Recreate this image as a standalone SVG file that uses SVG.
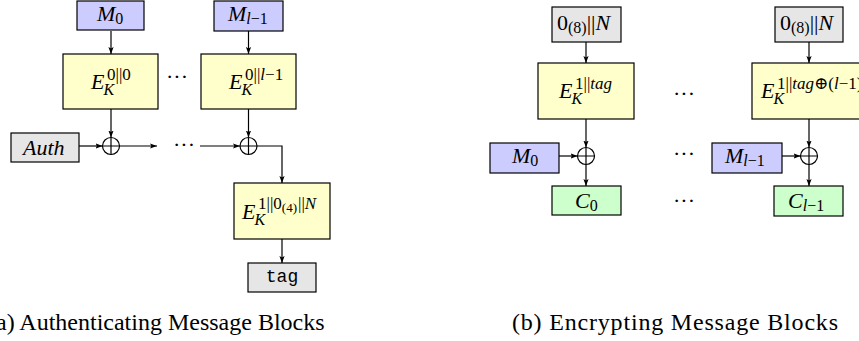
<svg xmlns="http://www.w3.org/2000/svg" width="859" height="341" viewBox="0 0 859 341">
<style>
.box{stroke:#000;stroke-width:1.2}
.blue{fill:#ccccff}.yel{fill:#ffffcc}.gry{fill:#e6e6e6}.grn{fill:#ccffcc}
.t{font-family:"Liberation Serif","DejaVu Serif","Times New Roman",serif;font-size:22px;fill:#000}
.i{font-style:italic}
.sm{font-size:16px}
.sp{font-size:17px}
.xs{font-size:13px}
.tt{font-family:"Liberation Mono","DejaVu Sans Mono",monospace;font-size:18px;fill:#000}
.ln{stroke:#000;stroke-width:1.2;fill:none}
.ox{stroke:#000;stroke-width:1.2;fill:#fff}
.dots{font-family:"Liberation Serif","DejaVu Serif",serif;font-size:22px;fill:#000}
.cap{font-family:"Liberation Serif","DejaVu Serif","Times New Roman",serif;font-size:24px;fill:#000}
</style>
<defs>
<marker id="ah" viewBox="0 0 7 6" refX="7" refY="3" markerWidth="7" markerHeight="6" orient="auto" markerUnits="userSpaceOnUse"><path d="M0,0.4 L7,3 L0,5.6 L1.4,3 Z" fill="#000"/></marker>
</defs>
<rect width="859" height="341" fill="#fff"/>

<g id="connectors">
<line class="ln" x1="111" y1="31" x2="111" y2="54" marker-end="url(#ah)"/>
<line class="ln" x1="248.5" y1="31" x2="248.5" y2="54" marker-end="url(#ah)"/>
<line class="ln" x1="111" y1="109" x2="111" y2="137.5" marker-end="url(#ah)"/>
<line class="ln" x1="248.5" y1="109" x2="248.5" y2="137.5" marker-end="url(#ah)"/>
<line class="ln" x1="79" y1="146" x2="102.5" y2="146" marker-end="url(#ah)"/>
<line class="ln" x1="119.5" y1="146" x2="157" y2="146" marker-end="url(#ah)"/>
<line class="ln" x1="200" y1="146" x2="240" y2="146" marker-end="url(#ah)"/>
<polyline class="ln" points="257,146 282,146 282,183" marker-end="url(#ah)"/>
<line class="ln" x1="282" y1="239" x2="282" y2="263" marker-end="url(#ah)"/>
<line class="ln" x1="586" y1="42" x2="586" y2="63" marker-end="url(#ah)"/>
<line class="ln" x1="586" y1="119" x2="586" y2="147.5" marker-end="url(#ah)"/>
<line class="ln" x1="559" y1="156" x2="577.5" y2="156" marker-end="url(#ah)"/>
<line class="ln" x1="586" y1="164.5" x2="586" y2="186" marker-end="url(#ah)"/>
<line class="ln" x1="809" y1="42" x2="809" y2="63" marker-end="url(#ah)"/>
<line class="ln" x1="809" y1="119" x2="809" y2="147.5" marker-end="url(#ah)"/>
<line class="ln" x1="782" y1="156" x2="800.5" y2="156" marker-end="url(#ah)"/>
<line class="ln" x1="809" y1="164.5" x2="809" y2="186" marker-end="url(#ah)"/>
</g>

<g id="dots">
<text class="dots" x="166" y="84">···</text>
<text class="dots" x="173" y="152">···</text>
<text class="dots" x="673" y="101">···</text>
<text class="dots" x="673" y="161">···</text>
<text class="dots" x="673" y="208">···</text>
</g>

<g id="a-M0"><rect class="box blue" x="77" y="1" width="67" height="29"/>
<text class="t" x="97" y="21"><tspan class="i">M</tspan><tspan class="sm" dy="3">0</tspan></text></g>
<g id="a-Ml1"><rect class="box blue" x="214" y="1" width="69" height="30"/>
<text class="t" x="228" y="21"><tspan class="i">M</tspan><tspan class="sm i" dy="3">l</tspan><tspan class="sm">−1</tspan></text></g>

<g id="a-E0"><rect class="box yel" x="63" y="54" width="95" height="55"/>
<text class="t" x="91" y="89"><tspan class="i">E</tspan><tspan class="sm i" dx="-1" dy="6">K</tspan><tspan class="sp" x="107" dy="-15">0||0</tspan></text></g>
<g id="a-El1"><rect class="box yel" x="201" y="54" width="95" height="55"/>
<text class="t" x="229" y="89"><tspan class="i">E</tspan><tspan class="sm i" dx="-1" dy="6">K</tspan><tspan class="sp" x="245" dy="-15">0||<tspan class="i">l</tspan>−1</tspan></text></g>

<g id="a-Auth"><rect class="box gry" x="11" y="133" width="68" height="29"/>
<text class="t i" x="23" y="155">Auth</text></g>

<g id="a-xor0"><circle class="ox" cx="111" cy="146" r="8.5"/><path class="ln" d="M102.5,146H119.5M111,137.5V154.5"/></g>
<g id="a-xor1"><circle class="ox" cx="248.5" cy="146" r="8.5"/><path class="ln" d="M240,146H257M248.5,137.5V154.5"/></g>

<g id="a-Efin"><rect class="box yel" x="234" y="183" width="96" height="56"/>
<text class="t" x="242" y="219"><tspan class="i">E</tspan><tspan class="sm i" dx="-1" dy="6">K</tspan><tspan class="sp" x="258" dy="-16">1||0</tspan><tspan class="xs" dy="3">(4)</tspan><tspan class="sp" dx="1" dy="-3">||</tspan><tspan class="sp i">N</tspan></text></g>

<g id="a-tag"><rect class="box gry" x="248" y="263" width="68" height="29"/>
<text class="tt" x="282" y="282" text-anchor="middle">tag</text></g>

<g id="b-N0"><rect class="box gry" x="552" y="7" width="69" height="35"/>
<text class="t" x="557" y="30">0<tspan class="sm" dy="3">(8)</tspan><tspan dy="-3">||</tspan><tspan class="i">N</tspan></text></g>
<g id="b-N1"><rect class="box gry" x="775" y="7" width="68" height="35"/>
<text class="t" x="780" y="30">0<tspan class="sm" dy="3">(8)</tspan><tspan dy="-3">||</tspan><tspan class="i">N</tspan></text></g>

<g id="b-E0"><rect class="box yel" x="538" y="63" width="96" height="56"/>
<text class="t" x="559" y="98"><tspan class="i">E</tspan><tspan class="sm i" dx="-1" dy="6">K</tspan><tspan class="sp" x="575" dy="-15">1||<tspan class="i">tag</tspan></tspan></text></g>
<g id="b-El1"><rect class="box yel" x="752" y="63" width="114" height="56"/>
<text class="t" x="761" y="98"><tspan class="i">E</tspan><tspan class="sm i" dx="-1" dy="6">K</tspan><tspan class="sp" x="777" dy="-15">1||<tspan class="i">tag</tspan>⊕(<tspan class="i">l</tspan>−1)</tspan></text></g>

<g id="b-xor0"><circle class="ox" cx="586" cy="156" r="8.5"/><path class="ln" d="M577.5,156H594.5M586,147.5V164.5"/></g>
<g id="b-xor1"><circle class="ox" cx="809" cy="156" r="8.5"/><path class="ln" d="M800.5,156H817.5M809,147.5V164.5"/></g>

<g id="b-M0"><rect class="box blue" x="490" y="143" width="69" height="30"/>
<text class="t" x="512" y="163"><tspan class="i">M</tspan><tspan class="sm" dy="3">0</tspan></text></g>
<g id="b-Ml1"><rect class="box blue" x="712" y="143" width="70" height="30"/>
<text class="t" x="725" y="163"><tspan class="i">M</tspan><tspan class="sm i" dy="3">l</tspan><tspan class="sm">−1</tspan></text></g>

<g id="b-C0"><rect class="box grn" x="552" y="186" width="69" height="29"/>
<text class="t" x="575" y="208"><tspan class="i">C</tspan><tspan class="sm" dy="3">0</tspan></text></g>
<g id="b-Cl1"><rect class="box grn" x="774" y="186" width="69" height="30"/>
<text class="t" x="788" y="208"><tspan class="i">C</tspan><tspan class="sm i" dy="3">l</tspan><tspan class="sm">−1</tspan></text></g>

<g id="captions">
<text class="cap" x="-12" y="330">(a) Authenticating Message Blocks</text>
<text class="cap" x="512" y="330" textLength="326" lengthAdjust="spacing">(b) Encrypting Message Blocks</text>
</g>
</svg>
